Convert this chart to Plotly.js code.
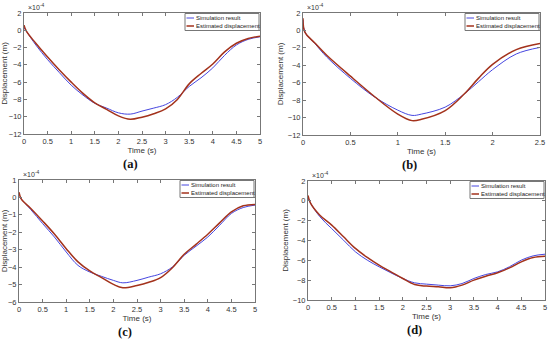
<!DOCTYPE html>
<html>
<head>
<meta charset="utf-8">
<script src="https://cdn.plot.ly/plotly-3.0.1.min.js"></script>
<style>html,body{margin:0;padding:0;background:#fff;}#chart{width:550px;height:340px;}</style>
</head>
<body>
<div id="chart"></div>
<script>
// Displacement values in units of 1e-4 m
var tA = [0, 0.05, 0.25, 0.5, 0.75, 1.0, 1.25, 1.5, 1.75, 2.0, 2.25, 2.5, 2.75, 3.0, 3.25, 3.5, 3.75, 4.0, 4.25, 4.5, 4.75, 5.0];
var simA = [0.3, -0.1, -1.7, -3.4, -4.9, -6.35, -7.5, -8.45, -9.0, -9.55, -9.7, -9.35, -9.0, -8.6, -7.75, -6.5, -5.5, -4.35, -2.9, -1.7, -1.05, -0.75];
var estA = [0.6, -0.1, -1.5, -3.1, -4.6, -6.0, -7.3, -8.4, -9.15, -9.9, -10.3, -10.05, -9.65, -9.1, -8.0, -6.2, -5.0, -3.9, -2.5, -1.5, -0.95, -0.68];

var tB = [0, 0.02, 0.125, 0.25, 0.5, 0.75, 1.0, 1.15, 1.25, 1.5, 1.7, 1.85, 2.0, 2.25, 2.5];
var simB = [1.2, -0.2, -1.5, -3.05, -5.5, -7.6, -9.15, -9.75, -9.6, -8.8, -7.3, -5.9, -4.5, -2.7, -1.95];
var estB = [1.4, -0.2, -1.45, -2.85, -5.25, -7.55, -9.6, -10.35, -10.2, -9.2, -7.3, -5.5, -3.9, -2.2, -1.5];

var tC = [0, 0.05, 0.25, 0.5, 0.75, 1.0, 1.25, 1.5, 1.75, 2.0, 2.2, 2.5, 2.75, 3.0, 3.25, 3.5, 3.75, 4.0, 4.25, 4.5, 4.75, 5.0];
var simC = [0.05, -0.1, -0.7, -1.5, -2.27, -3.13, -3.9, -4.28, -4.53, -4.76, -4.9, -4.76, -4.57, -4.38, -3.99, -3.32, -2.8, -2.27, -1.6, -0.92, -0.58, -0.44];
var estC = [0.3, -0.1, -0.63, -1.35, -2.1, -2.94, -3.7, -4.22, -4.6, -4.99, -5.18, -5.05, -4.87, -4.6, -4.03, -3.26, -2.69, -2.11, -1.46, -0.83, -0.48, -0.4];

var tD = [0, 0.05, 0.25, 0.5, 0.75, 1.0, 1.25, 1.5, 1.75, 2.0, 2.25, 2.5, 2.75, 3.0, 3.25, 3.5, 3.75, 4.0, 4.25, 4.5, 4.75, 5.0];
var simD = [0.3, -0.2, -1.6, -2.8, -3.97, -5.14, -5.98, -6.65, -7.26, -7.83, -8.27, -8.4, -8.5, -8.57, -8.34, -7.83, -7.43, -7.16, -6.65, -5.98, -5.55, -5.38];
var estD = [0.55, -0.2, -1.45, -2.45, -3.63, -4.8, -5.71, -6.49, -7.16, -7.83, -8.44, -8.6, -8.67, -8.77, -8.5, -8.0, -7.6, -7.26, -6.76, -6.15, -5.71, -5.58];

var seriesNames = ['Simulation result', 'Estimated displacement'];
var panelLabels = ['(a)', '(b)', '(c)', '(d)'];
var expLabel = '×10<sup>-4</sup>';

var W = 550, H = 340;
function px(x) { return x / W; }
function py(y) { return 1 - y / H; }

var blue = '#4646e0';
var red = '#a3321c';
var colors = [blue, red];
var widths = [1, 1.5];

var panels = [
  {t: tA, s: simA, e: estA, ax: '', box: [24, 260, 13, 134], yr: [-12, 2], yd: 2, xr: [0, 5]},
  {t: tB, s: simB, e: estB, ax: '2', box: [303, 540, 13, 135], yr: [-12, 2], yd: 2, xr: [0, 2.5]},
  {t: tC, s: simC, e: estC, ax: '3', box: [19, 255, 180, 302], yr: [-6, 1], yd: 1, xr: [0, 5]},
  {t: tD, s: simD, e: estD, ax: '4', box: [308, 545, 181, 300], yr: [-10, 2], yd: 2, xr: [0, 5]}
];

var data = [];
var layout = {
  width: W, height: H,
  margin: {l: 0, r: 0, t: 0, b: 0},
  paper_bgcolor: '#fff', plot_bgcolor: '#fff',
  font: {family: 'Arial, Liberation Sans, sans-serif', size: 8, color: '#333'},
  annotations: [],
  shapes: [],
  showlegend: false
};

panels.forEach(function (p, i) {
  var xa = 'x' + p.ax, ya = 'y' + p.ax;
  [p.s, p.e].forEach(function (vals, k) {
    data.push({x: p.t, y: vals, xaxis: xa, yaxis: ya, name: seriesNames[k],
      type: 'scatter', mode: 'lines',
      line: {color: colors[k], width: widths[k], shape: 'spline', smoothing: 1}});
  });

  var b = p.box;
  var axCommon = {showline: true, mirror: 'ticks', linecolor: '#777', linewidth: 1,
    ticks: 'inside', ticklen: 3, tickcolor: '#777', showgrid: false, zeroline: false,
    tickfont: {size: 7.5, color: '#333'}};
  layout['xaxis' + p.ax] = Object.assign({}, axCommon, {
    domain: [px(b[0]), px(b[1])], anchor: ya, range: p.xr, dtick: 0.5, tick0: 0,
    title: {text: 'Time (s)', font: {size: 8, color: '#333'}, standoff: 2}
  });
  layout['yaxis' + p.ax] = Object.assign({}, axCommon, {
    domain: [py(b[3]), py(b[2])], anchor: xa, range: p.yr, dtick: p.yd, tick0: 0,
    title: {text: 'Displacement (m)', font: {size: 8, color: '#333'}, standoff: 2}
  });

  // legend box drawn at the top-right corner of each axes
  var lr = b[1] - 1, lt = b[2] + 0.5, lw = 74, lh = 17;
  var ll = lr - lw;
  layout.shapes.push({type: 'rect', xref: 'paper', yref: 'paper',
    x0: px(ll), x1: px(lr), y0: py(lt + lh), y1: py(lt),
    line: {color: '#777', width: 1}, fillcolor: '#fff', layer: 'above'});
  seriesNames.forEach(function (nm, k) {
    var yy = lt + 4.5 + k * 8;
    layout.shapes.push({type: 'line', xref: 'paper', yref: 'paper',
      x0: px(ll + 1.5), x1: px(ll + 9), y0: py(yy), y1: py(yy),
      line: {color: colors[k], width: widths[k]}, layer: 'above'});
    layout.annotations.push({xref: 'paper', yref: 'paper', x: px(ll + 9), y: py(yy),
      xanchor: 'left', yanchor: 'middle', text: nm, showarrow: false,
      font: {size: 6, color: '#222'}});
  });

  layout.annotations.push({xref: 'paper', yref: 'paper', x: px(b[0] + 2), y: py(b[2]),
    xanchor: 'left', yanchor: 'bottom', text: expLabel, showarrow: false,
    font: {size: 7, color: '#333'}});
  layout.annotations.push({xref: 'paper', yref: 'paper', x: px((b[0] + b[1]) / 2 - 12),
    y: py(b[3] + 21), xanchor: 'center', yanchor: 'top', text: '<b>' + panelLabels[i] + '</b>',
    showarrow: false, font: {family: 'Liberation Serif, Times New Roman, serif', size: 12.5, color: '#111'}});
});

Plotly.newPlot('chart', data, layout, {staticPlot: true, displayModeBar: false});
</script>
</body>
</html>
